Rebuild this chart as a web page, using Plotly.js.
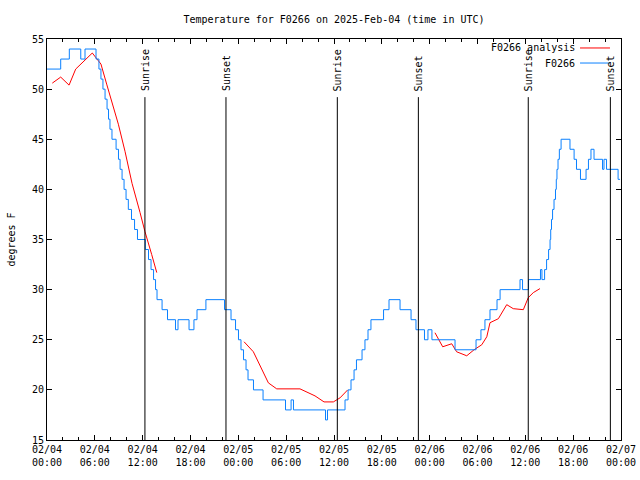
<!DOCTYPE html>
<html>
<head>
<meta charset="utf-8">
<script src="https://cdn.plot.ly/plotly-3.0.1.min.js"></script>
<style>html,body{margin:0;padding:0;background:#fff}#chart{width:640px;height:480px}</style>
</head>
<body>
<div id="chart"></div>
<script>
// Observed station temperature (F0266), step points
const obsTime = [
"2025-02-04 00:00","2025-02-04 01:43","2025-02-04 02:48","2025-02-04 04:14","2025-02-04 04:46",
"2025-02-04 06:09","2025-02-04 06:31","2025-02-04 06:46","2025-02-04 07:01","2025-02-04 07:17",
"2025-02-04 07:32","2025-02-04 07:43","2025-02-04 07:54","2025-02-04 08:09","2025-02-04 08:40",
"2025-02-04 08:58","2025-02-04 09:10","2025-02-04 09:25","2025-02-04 09:40","2025-02-04 09:55",
"2025-02-04 10:12","2025-02-04 10:36","2025-02-04 10:59","2025-02-04 11:21","2025-02-04 12:20",
"2025-02-04 12:44","2025-02-04 13:03","2025-02-04 13:22","2025-02-04 13:37","2025-02-04 13:48",
"2025-02-04 14:26","2025-02-04 15:07","2025-02-04 16:07","2025-02-04 16:26","2025-02-04 17:49",
"2025-02-04 18:26","2025-02-04 18:49","2025-02-04 19:56","2025-02-04 22:16","2025-02-04 23:05",
"2025-02-04 23:39","2025-02-05 00:01","2025-02-05 00:20","2025-02-05 00:39","2025-02-05 00:58",
"2025-02-05 01:13","2025-02-05 01:54","2025-02-05 03:06","2025-02-05 05:55","2025-02-05 06:37",
"2025-02-05 06:55","2025-02-05 10:56","2025-02-05 11:11","2025-02-05 13:23","2025-02-05 13:46",
"2025-02-05 14:08","2025-02-05 14:31","2025-02-05 14:49","2025-02-05 15:31","2025-02-05 15:53",
"2025-02-05 16:16","2025-02-05 16:38","2025-02-05 18:13","2025-02-05 18:54","2025-02-05 20:17",
"2025-02-05 21:40","2025-02-05 22:17","2025-02-05 23:21","2025-02-05 23:47","2025-02-06 00:17",
"2025-02-06 03:11","2025-02-06 05:49","2025-02-06 06:26","2025-02-06 06:56","2025-02-06 07:34",
"2025-02-06 08:27","2025-02-06 08:50","2025-02-06 11:20","2025-02-06 11:39","2025-02-06 12:24",
"2025-02-06 13:54","2025-02-06 14:05","2025-02-06 14:25","2025-02-06 14:40","2025-02-06 14:55",
"2025-02-06 15:06","2025-02-06 15:11","2025-02-06 15:17","2025-02-06 15:25","2025-02-06 15:36",
"2025-02-06 15:47","2025-02-06 15:53","2025-02-06 15:58","2025-02-06 16:06","2025-02-06 16:16",
"2025-02-06 16:29","2025-02-06 17:36","2025-02-06 18:07","2025-02-06 18:25","2025-02-06 18:55",
"2025-02-06 19:37","2025-02-06 19:55","2025-02-06 20:14","2025-02-06 20:37","2025-02-06 21:41",
"2025-02-06 21:52","2025-02-06 22:11","2025-02-06 23:38","2025-02-06 23:53"];
const obsTemp = [
52,53,54,53,54,
53,52,51,50,49,
48,47,46,45,44,
43,42,41,40,39,
38,37,36,35,34,
33,32,31,30,29,
28,27,26,27,26,
27,28,29,28,27,
26,25,24,23,22,
21,20,19,18,19,
18,17,18,19,20,
21,22,23,24,25,
26,27,28,29,28,
27,26,25,26,25,
24,25,26,27,28,
29,30,31,30,31,
32,31,32,33,34,
35,36,37,38,39,
40,41,42,43,44,
45,44,43,42,41,
42,43,44,43,42,
43,42,41,41];

// Analysis temperature (F0266 analysis); null = gap
const anaTime = [
"2025-02-04 00:40","2025-02-04 01:43","2025-02-04 02:46","2025-02-04 03:36","2025-02-04 05:41",
"2025-02-04 06:46","2025-02-04 07:29","2025-02-04 08:57","2025-02-04 09:47","2025-02-04 10:40",
"2025-02-04 11:40","2025-02-04 12:17","2025-02-04 13:08","2025-02-04 13:46",
"2025-02-04 18:00",
"2025-02-05 00:43","2025-02-05 01:53","2025-02-05 03:46","2025-02-05 04:49","2025-02-05 07:44",
"2025-02-05 09:37","2025-02-05 10:45","2025-02-05 11:55","2025-02-05 12:45","2025-02-05 13:43",
"2025-02-05 18:00",
"2025-02-06 00:40","2025-02-06 01:38","2025-02-06 02:46","2025-02-06 03:23","2025-02-06 04:39",
"2025-02-06 05:34","2025-02-06 06:32","2025-02-06 07:10","2025-02-06 07:34","2025-02-06 08:37",
"2025-02-06 09:40","2025-02-06 10:29","2025-02-06 11:45","2025-02-06 12:22","2025-02-06 13:00",
"2025-02-06 13:50"];
const anaTemp = [
50.6,51.2,50.4,52.0,53.6,
52.5,50.5,46.5,43.8,40.6,
37.7,35.8,33.5,31.7,
null,
24.8,23.8,20.7,20.1,20.1,
19.4,18.8,18.8,19.2,20.0,
null,
25.7,24.3,24.6,23.8,23.4,
24.0,24.5,25.3,26.7,27.1,
28.5,28.1,28.0,29.2,29.7,
30.1];

// Sunrise / sunset markers
const sunTime = ["2025-02-04 12:17","2025-02-04 22:27","2025-02-05 12:25","2025-02-05 22:35","2025-02-06 12:22","2025-02-06 22:40"];
const sunLabel = ["Sunrise","Sunset","Sunrise","Sunset","Sunrise","Sunset"];

// Series names and colours (legend drawn gnuplot-style: text, then line key)
const seriesNames = ["F0266 analysis", "F0266"];
const seriesColors = ["#ff0000", "#0a80ff"];

const FONT = "DejaVu Sans Mono, monospace";

const traces = [
  {x: anaTime, y: anaTemp, type: "scatter", mode: "lines", name: seriesNames[0],
   line: {color: seriesColors[0], width: 1}, connectgaps: false},
  {x: obsTime, y: obsTemp, type: "scatter", mode: "lines", name: seriesNames[1],
   line: {color: seriesColors[1], width: 1, shape: "hv"}}
];

const shapes = sunTime.map(t => ({type: "line", xref: "x", yref: "y", x0: t, x1: t, y0: 15, y1: 49.2,
  line: {color: "#000", width: 1}}));
const annotations = sunTime.map((t, i) => ({x: t, y: 49.6, xref: "x", yref: "y", text: sunLabel[i],
  textangle: -90, showarrow: false, xanchor: "center", yanchor: "bottom",
  font: {family: FONT, size: 10, color: "#000"}}));

// gnuplot-style key in the top-right corner
const keyRows = [0.9776, 0.9401];
seriesNames.forEach((n, i) => {
  annotations.push({xref: "paper", yref: "paper", x: 0.9225, y: keyRows[i], text: n,
    showarrow: false, xanchor: "right", yanchor: "middle",
    font: {family: FONT, size: 10, color: "#000"}});
  shapes.push({type: "line", xref: "paper", yref: "paper", x0: 0.9286, x1: 0.9808,
    y0: keyRows[i], y1: keyRows[i], line: {color: seriesColors[i], width: 1}});
});

const layout = {
  width: 640, height: 480,
  margin: {l: 47, r: 19, t: 39, b: 40},
  paper_bgcolor: "#fff", plot_bgcolor: "#fff",
  font: {family: FONT, size: 10, color: "#000"},
  title: {text: "Temperature for F0266 on 2025-Feb-04 (time in UTC)", x: 0.5, xref: "paper",
          y: 1 - 19/480, yanchor: "middle", font: {family: FONT, size: 10, color: "#000"}},
  xaxis: {type: "date", range: ["2025-02-04 00:00", "2025-02-07 00:00"],
          tick0: "2025-02-04 00:00", dtick: 6*3600000, tickformat: "%m/%d<br>%H:%M",
          ticks: "inside", ticklen: 5, tickcolor: "#000", showline: true, linecolor: "#000", linewidth: 1,
          mirror: "ticks", showgrid: false, zeroline: false,
          minor: {dtick: 2*3600000, tick0: "2025-02-04 00:00", ticks: "inside", ticklen: 3, tickcolor: "#000", showgrid: false},
          tickfont: {family: FONT, size: 10, color: "#000"}},
  yaxis: {range: [15, 55], dtick: 5, tick0: 15, ticks: "inside", ticklen: 5, tickcolor: "#000",
          showline: true, linecolor: "#000", linewidth: 1, mirror: "ticks", showgrid: false, zeroline: false,
          title: {text: "degrees F", standoff: 14, font: {family: FONT, size: 10, color: "#000"}},
          tickfont: {family: FONT, size: 10, color: "#000"}},
  showlegend: false,
  shapes: shapes,
  annotations: annotations
};

Plotly.newPlot("chart", traces, layout, {staticPlot: true, displayModeBar: false});
</script>
</body>
</html>
